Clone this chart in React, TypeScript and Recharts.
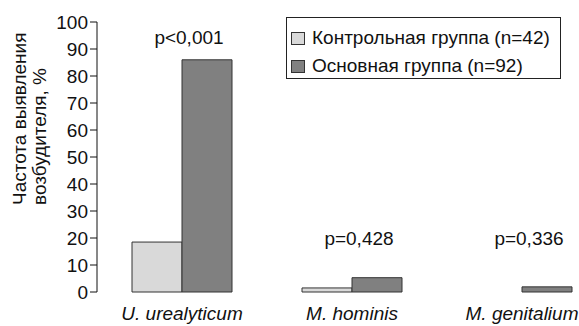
import React from "react";
import { XAxis, YAxis, Line, Bar, ComposedChart } from "recharts";

const categories = ["U. urealyticum", "M. hominis", "M. genitalium"];
const controlValues = [18.5, 1.5, 0];
const mainValues = [86, 5.3, 1.9];
const pLabels = ["p<0,001", "p=0,428", "p=0,336"];
const pLabelY = [92, 17.5, 17.5];
const yTicks = [0, 10, 20, 30, 40, 50, 60, 70, 80, 90, 100];
const seriesNames = ["Контрольная группа (n=42)", "Основная группа (n=92)"];
const seriesColors = ["#d9d9d9", "#808080"];

const data = categories.map((c, i) => ({
  name: c,
  control: controlValues[i],
  main: mainValues[i],
  pY: pLabelY[i],
}));

const FONT = "'Liberation Sans', Arial, sans-serif";
const FS = 19;

const LegendBox = () => (
  <div
    style={{
      position: "absolute",
      left: 286,
      top: 17,
      width: 275,
      height: 62,
      border: "1px solid #222",
      background: "#fff",
      boxSizing: "border-box",
      paddingTop: 6,
      paddingLeft: 4,
      fontFamily: FONT,
      fontSize: FS,
      color: "#111",
    }}
  >
    {seriesNames.map((n, i) => (
      <div key={i} style={{ display: "flex", alignItems: "center", height: 28, whiteSpace: "nowrap" }}>
        <span
          style={{
            display: "inline-block",
            width: 14,
            height: 13,
            background: seriesColors[i],
            border: "1px solid #333",
            marginRight: 7,
            boxSizing: "border-box",
          }}
        />
        <span>{n}</span>
      </div>
    ))}
  </div>
);

const renderPLabel = (props: any) => {
  const { x, y, index } = props;
  return (
    <text key={index} x={x + 7} y={y} textAnchor="middle" fontFamily={FONT} fontSize={FS} fill="#111">
      {pLabels[index]}
    </text>
  );
};

const renderYLabel = () => (
  <g>
    <text transform="translate(26,205) rotate(-90)" textAnchor="start" fontFamily={FONT} fontSize={FS} fill="#111">
      Частота выявления
    </text>
    <text transform="translate(46,205) rotate(-90)" textAnchor="start" fontFamily={FONT} fontSize={FS} fill="#111">
      возбудителя, %
    </text>
  </g>
);

export default function App() {
  return (
    <div style={{ position: "absolute", left: 0, top: 0, width: 579, height: 326, overflow: "hidden", background: "#fff" }}>
      <ComposedChart
        width={620}
        height={326}
        data={data}
        margin={{ top: 22, right: 13, bottom: 4, left: 0 }}
        barGap={0}
        barSize={50}
      >
        <XAxis
          dataKey="name"
          axisLine={false}
          tickLine={false}
          tickMargin={9}
          height={30}
          tick={{ fontFamily: FONT, fontSize: FS, fill: "#111", fontStyle: "italic" }}
          interval={0}
        />
        <YAxis
          width={97}
          domain={[0, 100]}
          ticks={yTicks}
          interval={0}
          axisLine={{ stroke: "#111", strokeWidth: 1 }}
          tickLine={{ stroke: "#111", strokeWidth: 1 }}
          tickSize={7}
          tickMargin={2}
          tick={{ fontFamily: FONT, fontSize: FS, fill: "#111" }}
          label={{ content: renderYLabel }}
        />
        <Bar dataKey="control" name={seriesNames[0]} fill={seriesColors[0]} stroke="#333" strokeWidth={1} isAnimationActive={false} />
        <Bar dataKey="main" name={seriesNames[1]} fill={seriesColors[1]} stroke="#333" strokeWidth={1} isAnimationActive={false} />
        <Line
          dataKey="pY"
          stroke="none"
          dot={false}
          activeDot={false}
          legendType="none"
          label={renderPLabel}
          isAnimationActive={false}
        />
      </ComposedChart>
      <LegendBox />
    </div>
  );
}
